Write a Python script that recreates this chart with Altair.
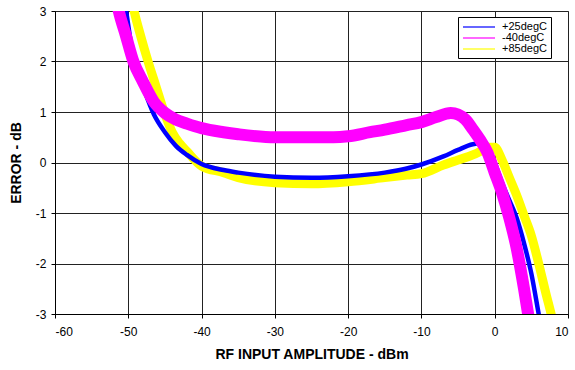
import altair as alt
import pandas as pd

# ---- data ----
series_names = ["+25degC", "-40degC", "+85degC"]
series_colors = ["#0000FF", "#FF00FF", "#FFFF00"]

blue_x = [-51.2, -50.3, -49.2, -48.0, -46.5, -45.0, -43.5, -42.0, -40.0, -37.0, -35.0,
          -30.0, -25.0, -20.0, -15.0, -12.0, -10.0, -7.0, -5.0, -3.0, -2.0, -1.0,
          0.0, 1.0, 2.0, 3.0, 4.0, 5.0, 6.0, 6.5]
blue_y = [3.8, 3.0, 2.0, 1.5, 0.95, 0.6, 0.33, 0.15, -0.03, -0.15, -0.2,
          -0.28, -0.3, -0.27, -0.2, -0.12, -0.04, 0.12, 0.25, 0.36, 0.38, 0.3,
          0.0, -0.4, -0.75, -1.1, -1.6, -2.2, -3.0, -3.4]

mag_x = [-53.0, -52.0, -51.3, -50.3, -49.3, -48.0, -46.5, -45.0, -43.5, -42.0, -40.0,
         -37.0, -35.0, -30.0, -25.0, -22.0, -20.0, -17.0, -15.0, -12.0, -10.0, -8.0,
         -6.0, -5.0, -4.0, -3.0, -2.0, -1.0, 0.0, 1.0, 2.0, 3.0, 4.0, 5.0]
mag_y = [4.2, 3.5, 3.0, 2.5, 2.0, 1.6, 1.2, 0.98, 0.85, 0.77, 0.68,
         0.6, 0.56, 0.5, 0.5, 0.5, 0.52, 0.6, 0.65, 0.74, 0.8, 0.9,
         0.98, 0.95, 0.85, 0.66, 0.45, 0.2, -0.2, -0.6, -1.1, -1.7, -2.5, -3.4]

yel_x = [-50.0, -49.2, -48.3, -47.3, -46.2, -45.1, -44.0, -43.0, -42.0, -40.0, -37.0,
         -35.0, -30.0, -25.0, -20.0, -15.0, -12.0, -10.0, -7.0, -5.0, -3.0, -2.0,
         -1.0, 0.0, 1.0, 2.0, 3.0, 4.0, 5.0, 6.0, 7.0, 7.7, 8.5]
yel_y = [3.6, 3.0, 2.5, 2.0, 1.5, 1.0, 0.6, 0.38, 0.22, -0.07, -0.2,
         -0.3, -0.4, -0.42, -0.38, -0.3, -0.25, -0.22, -0.05, 0.05, 0.15, 0.22,
         0.3, 0.3, 0.05, -0.3, -0.65, -1.05, -1.45, -2.0, -2.6, -3.0, -3.5]

x_ticks = [-60, -50, -40, -30, -20, -10, 0, 10]
y_ticks = [-3, -2, -1, 0, 1, 2, 3]


def frame(xs, ys, name):
    return pd.DataFrame({"x": xs, "y": ys, "series": name, "i": range(len(xs))})


df_blue = frame(blue_x, blue_y, series_names[0])
df_mag = frame(mag_x, mag_y, series_names[1])
df_yel = frame(yel_x, yel_y, series_names[2])

color = alt.Color(
    "series:N",
    scale=alt.Scale(domain=series_names, range=series_colors),
    legend=alt.Legend(
        title=None,
        orient="none",
        legendX=403,
        legendY=6,
        direction="vertical",
        symbolType="M-1,0H5.4",
        symbolSize=100,
        symbolStrokeWidth=1.2,
        labelFont="Liberation Sans",
        labelFontSize=11,
        labelColor="black",
        strokeColor="black",
        fillColor="white",
        padding=4,
        rowPadding=0,
        labelOffset=28,
    ),
)

x_enc = alt.X(
    "x:Q",
    scale=alt.Scale(domain=[-60, 10], nice=False),
    axis=alt.Axis(values=x_ticks, title="RF INPUT AMPLITUDE - dBm",
                  labelExpr="'' + datum.value"),
)
y_enc = alt.Y(
    "y:Q",
    scale=alt.Scale(domain=[-3, 3], nice=False),
    axis=alt.Axis(values=y_ticks, title="ERROR - dB",
                  labelExpr="'' + datum.value"),
)


def layer(df, width):
    return alt.Chart(df).mark_line(clip=True, strokeWidth=width, strokeJoin="round",
                                   strokeCap="round", interpolate="monotone").encode(
        x=x_enc, y=y_enc, color=color, order="i:Q"
    )


chart = alt.layer(
    layer(df_yel, 9),
    layer(df_blue, 4.5),
    layer(df_mag, 12),
).properties(
    width=513,
    height=303,
    autosize="none",
    padding={"left": 55, "top": 11, "right": 7, "bottom": 56},
).configure_view(
    stroke="#808080", strokeWidth=1
).configure_axis(
    grid=True,
    gridColor="#222222",
    gridWidth=1,
    gridOpacity=1,
    domainColor="black",
    domainWidth=1,
    tickColor="black",
    tickSize=4,
    labelFont="Liberation Sans",
    labelFontSize=12,
    labelColor="black",
    titleFont="Liberation Sans",
    titleFontSize=14,
    titleFontWeight="bold",
    titleColor="black",
).configure_axisX(
    labelPadding=8, titlePadding=10
).configure_axisY(
    labelPadding=5, titlePadding=12
)

chart.save("out.html", embed_options={"renderer": "svg", "actions": False})
